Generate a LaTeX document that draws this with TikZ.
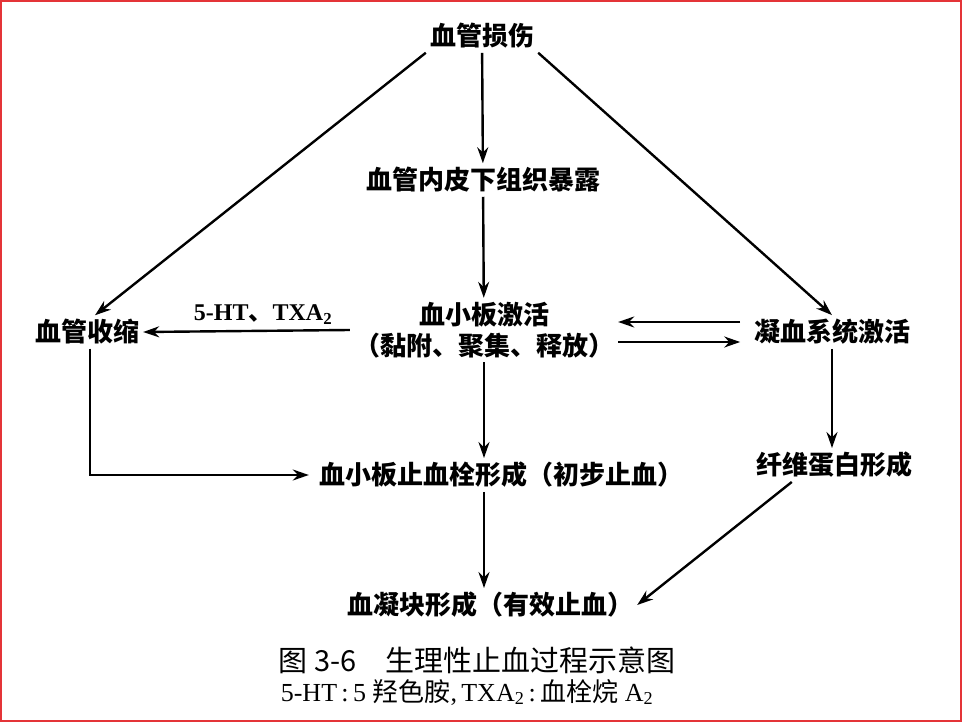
\documentclass[tikz,border=0pt]{standalone}
\usepackage{fontspec}
\setmainfont{Liberation Serif}
\newfontfamily\zhfont{Noto Sans CJK SC}
\usetikzlibrary{arrows.meta, positioning}
\definecolor{FrameRed}{RGB}{228, 52, 56}
\begin{document}
\begin{tikzpicture}[
    x=1pt,
    y=-1pt,
    stepbox/.style={
        inner sep=4pt,
        align=center,
        font=\zhfont\bfseries\fontsize{26}{31}\selectfont
    },
    flow/.style={
        line width=2.4pt,
        -{Stealth[length=16pt,width=11pt]}
    }
]
\useasboundingbox (0,0) rectangle (962,722);
% -------------------------------------------------------------
% FRAME
% -------------------------------------------------------------
\draw[FrameRed, line width=2.2pt] (1.2,1.2) rectangle (960.8,720.8);
% -------------------------------------------------------------
% STEPS
% -------------------------------------------------------------
\node[stepbox] (injury) at (482,36) {血管损伤};
\node[stepbox] (expose) at (483,180) {血管内皮下组织暴露};
\node[stepbox] (activ) at (484,330) {血小板激活\\（黏附、聚集、释放）};
\node[stepbox] (contract) at (87,332) {血管收缩};
\node[stepbox] (coag) at (832,332) {凝血系统激活};
\node[stepbox] (plug) at (501,475) {血小板止血栓形成（初步止血）};
\node[stepbox] (fibrin) at (834,465) {纤维蛋白形成};
\node[stepbox] (clot) at (490,605) {血凝块形成（有效止血）};
% -------------------------------------------------------------
% CAPTION
% -------------------------------------------------------------
\node[font=\zhfont\fontsize{29}{34}\selectfont] (caption) at (477,660)
{图 3-6\quad 生理性止血过程示意图};
\node[font=\fontsize{26}{30}\selectfont] (legend) at (467,692)
{5-HT\,:\,5 {\zhfont 羟色胺},\,TXA\textsubscript{2}\,:\,{\zhfont 血栓烷} A\textsubscript{2}};
% -------------------------------------------------------------
% ARROWS
% -------------------------------------------------------------
\draw[flow] (injury) -- (expose);
\draw[flow] (expose) -- (activ);
\draw[flow] (injury.south west) -- ([xshift=8pt]contract.north);
\draw[flow] (injury.south east) -- (coag.north);
\draw[flow]
(activ.west)
--
node[
    above=2pt,
    pos=0.42,
    font=\bfseries\fontsize{24}{28}\selectfont
]
{5-HT{\zhfont 、}TXA\textsubscript{2}}
(contract.east);
\draw[flow] ([xshift=122pt,yshift=8pt]activ.east) -- ([yshift=8pt]activ.east);
\draw[flow] ([yshift=-12pt]activ.east) -- ([xshift=122pt,yshift=-12pt]activ.east);
\draw[flow] (activ) -- (plug.north -| activ);
\draw[flow] ([xshift=3pt]contract.south) |- ([xshift=-6pt]plug.west);
\draw[flow] (coag) -- (fibrin.north -| coag);
\draw[flow] (plug.south -| activ) -- (clot.north -| activ);
\draw[flow] ([xshift=40pt]fibrin.south west) -- (clot.east);
\end{tikzpicture}
\end{document}
